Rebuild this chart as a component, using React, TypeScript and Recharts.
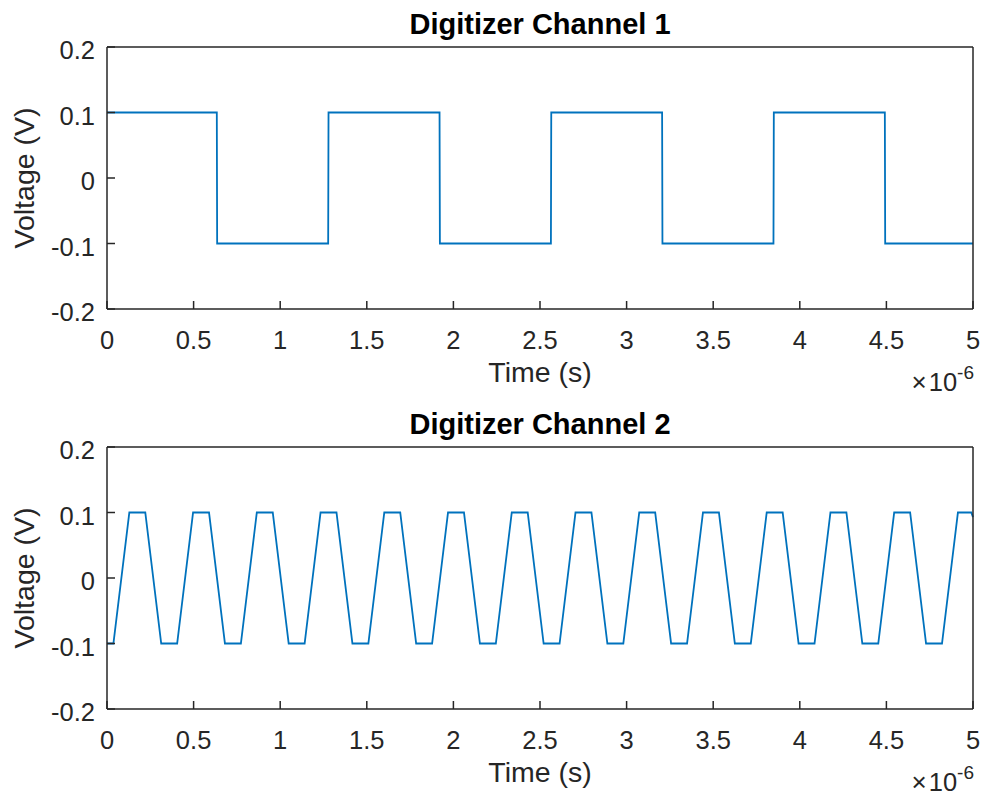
import { LineChart, Line, XAxis, YAxis, Label } from "recharts";

// x axis in units of 1e-6 s
const timeTicks = [0, 0.5, 1, 1.5, 2, 2.5, 3, 3.5, 4, 4.5, 5];
const voltTicks = [-0.2, -0.1, 0, 0.1, 0.2];

// channel 1: square wave corners
const ch1Time = [
  0, 0.634, 0.636, 1.277, 1.279, 1.92, 1.922, 2.563, 2.565, 3.205, 3.207,
  3.848, 3.85, 4.491, 4.493, 5.0,
];
const ch1Volt = [
  0.1, 0.1, -0.1, -0.1, 0.1, 0.1, -0.1, -0.1, 0.1, 0.1, -0.1, -0.1, 0.1, 0.1,
  -0.1, -0.1,
];

// channel 2: trapezoid corners
const ch2Time = [
  0, 0.037, 0.129, 0.221, 0.313, 0.405, 0.497, 0.589, 0.681, 0.773, 0.865,
  0.957, 1.049, 1.141, 1.233, 1.325, 1.417, 1.509, 1.601, 1.693, 1.785, 1.877,
  1.969, 2.061, 2.153, 2.245, 2.337, 2.429, 2.521, 2.613, 2.705, 2.797, 2.889,
  2.981, 3.073, 3.165, 3.257, 3.349, 3.441, 3.533, 3.625, 3.717, 3.809, 3.901,
  3.993, 4.085, 4.177, 4.269, 4.361, 4.453, 4.545, 4.637, 4.729, 4.821, 4.913,
  4.99, 5.0,
];
const ch2Volt = [
  -0.1,
  -0.1, 0.1, 0.1, -0.1,
  -0.1, 0.1, 0.1, -0.1,
  -0.1, 0.1, 0.1, -0.1,
  -0.1, 0.1, 0.1, -0.1,
  -0.1, 0.1, 0.1, -0.1,
  -0.1, 0.1, 0.1, -0.1,
  -0.1, 0.1, 0.1, -0.1,
  -0.1, 0.1, 0.1, -0.1,
  -0.1, 0.1, 0.1, -0.1,
  -0.1, 0.1, 0.1, -0.1,
  -0.1, 0.1, 0.1, -0.1,
  -0.1, 0.1, 0.1, -0.1,
  -0.1, 0.1, 0.1, -0.1,
  -0.1, 0.1, 0.1, 0.093,
];

const ch1Data = ch1Time.map((t, i) => ({ t, v: ch1Volt[i] }));
const ch2Data = ch2Time.map((t, i) => ({ t, v: ch2Volt[i] }));

const BLUE = "#0072BD";
const AXIS = "#262626";
const FONT = "'Liberation Sans', Arial, Helvetica, sans-serif";
const TICK_LEN = 8;
const X_GAP = 31;
const Y_GAP = 12;

const XTick = ({ x, y, payload }: any) => (
  <g>
    <line x1={x} x2={x} y1={y - X_GAP} y2={y - X_GAP - TICK_LEN} stroke={AXIS} strokeWidth={1.5} />
    <text x={x} y={y} textAnchor="middle" dominantBaseline="central" fontSize={25.5} fill={AXIS} fontFamily={FONT}>
      {payload.value}
    </text>
  </g>
);

const YTick = ({ x, y, payload }: any) => (
  <g>
    <line x1={x + Y_GAP} x2={x + Y_GAP + TICK_LEN} y1={y} y2={y} stroke={AXIS} strokeWidth={1.5} />
    <text x={x} y={y + 3} textAnchor="end" dominantBaseline="central" fontSize={25.5} fill={AXIS} fontFamily={FONT}>
      {payload.value}
    </text>
  </g>
);

function Panel({ data, title }: { data: { t: number; v: number }[]; title: string }) {
  return (
    <LineChart width={982} height={400} data={data} margin={{ top: 47, right: 9, bottom: 0, left: 0 }}>
      <XAxis
        dataKey="t"
        type="number"
        domain={[0, 5]}
        ticks={timeTicks}
        interval={0}
        height={91}
        tickSize={0}
        tickMargin={X_GAP}
        tickLine={false}
        axisLine={{ stroke: AXIS, strokeWidth: 1.5 }}
        tick={(p: any) => <XTick {...p} />}
      >
        <Label
          content={({ viewBox }: any) => (
            <g fontFamily={FONT} fill={AXIS}>
              <text x={viewBox.x + viewBox.width / 2} y={viewBox.y + 73} textAnchor="middle" fontSize={28.5}>
                Time (s)
              </text>
              <text x={viewBox.x + viewBox.width + 1} y={viewBox.y + 82} textAnchor="end" fontSize={25.5}>
                <tspan fontSize={26}>×</tspan>
                <tspan dx={2}>10</tspan>
                <tspan fontSize={19} dy={-12}>-6</tspan>
              </text>
            </g>
          )}
        />
      </XAxis>
      <XAxis
        xAxisId="top"
        dataKey="t"
        type="number"
        orientation="top"
        mirror
        domain={[0, 5]}
        ticks={timeTicks}
        interval={0}
        height={1}
        tick={false}
        tickSize={TICK_LEN}
        tickLine={{ stroke: AXIS, strokeWidth: 1.5 }}
        axisLine={{ stroke: AXIS, strokeWidth: 1.5 }}
      >
        <Label
          content={({ viewBox }: any) => (
            <text
              x={viewBox.x + viewBox.width / 2}
              y={viewBox.y - 23}
              textAnchor="middle"
              dominantBaseline="central"
              fontSize={29}
              fontWeight="bold"
              fill="#000"
              fontFamily={FONT}
            >
              {title}
            </text>
          )}
        />
      </XAxis>
      <YAxis
        type="number"
        domain={[-0.2, 0.2]}
        ticks={voltTicks}
        interval={0}
        width={107}
        tickSize={0}
        tickMargin={Y_GAP}
        tickLine={false}
        axisLine={{ stroke: AXIS, strokeWidth: 1.5 }}
        tick={(p: any) => <YTick {...p} />}
      >
        <Label
          content={({ viewBox }: any) => {
            const cx = viewBox.x + 24;
            const cy = viewBox.y + viewBox.height / 2;
            return (
              <text
                x={cx}
                y={cy}
                transform={`rotate(-90, ${cx}, ${cy})`}
                textAnchor="middle"
                dominantBaseline="central"
                fontSize={28.5}
                fill={AXIS}
                fontFamily={FONT}
              >
                Voltage (V)
              </text>
            );
          }}
        />
      </YAxis>
      <YAxis
        yAxisId="right"
        type="number"
        orientation="right"
        mirror
        domain={[-0.2, 0.2]}
        ticks={voltTicks}
        interval={0}
        width={1}
        tick={false}
        tickSize={TICK_LEN}
        tickLine={{ stroke: AXIS, strokeWidth: 1.5 }}
        axisLine={{ stroke: AXIS, strokeWidth: 1.5 }}
      />
      {/* invisible twin so the top/right box axes are bound to a series */}
      <Line
        xAxisId="top"
        yAxisId="right"
        type="linear"
        dataKey="v"
        stroke="none"
        dot={false}
        activeDot={false}
        isAnimationActive={false}
      />
      <Line
        type="linear"
        dataKey="v"
        stroke={BLUE}
        strokeWidth={1.8}
        dot={false}
        activeDot={false}
        isAnimationActive={false}
      />
    </LineChart>
  );
}

export default function App() {
  return (
    <div style={{ position: "absolute", left: 0, top: 0, width: 982, height: 796, background: "#fff", overflow: "hidden" }}>
      <Panel data={ch1Data} title="Digitizer Channel 1" />
      <Panel data={ch2Data} title="Digitizer Channel 2" />
    </div>
  );
}
